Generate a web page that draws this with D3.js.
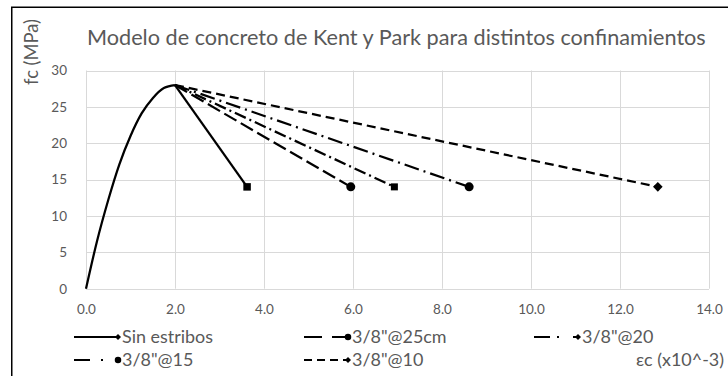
<!DOCTYPE html>
<html><head><meta charset="utf-8">
<script src="https://cdn.jsdelivr.net/npm/d3@7"></script>
<style>html,body{margin:0;padding:0;background:#fff;overflow:hidden}svg{display:block}</style>
</head><body>
<svg id="c" width="728" height="376"></svg>
<script>
// ---- data ----
const title = "Modelo de concreto de Kent y Park para distintos confinamientos";
const yTitle = "fc (MPa)";
const xTitle = "εc (x10^-3)";
const xTicks = [0, 2, 4, 6, 8, 10, 12, 14];
const yTicks = [0, 5, 10, 15, 20, 25, 30];
// ascending branch (shared) : strain x10^-3, stress MPa
const ascStrain = [0, 0.25, 0.5, 0.75, 1.0, 1.25, 1.5, 1.75, 2.0];
const ascStress = [0, 6.6, 12.2, 17.1, 21.0, 24.1, 26.2, 27.6, 28.0];
// descending branches: from peak to 0.5 f'c
const seriesNames = ["Sin estribos", "3/8\"@25cm", "3/8\"@20", "3/8\"@15", "3/8\"@10"];
const peakStrain = 2.0, peakStress = 28.0;
const endStrain = [3.62, 5.95, 6.93, 8.61, 12.85];
const endStress = [14, 14, 14, 14, 14];

// ---- styles ----
const dashes = [null, "14,5", "12,4,2,4", "15,5,2,5", "9,5"];
const legendDashes = [null, "18,10", "16,7,2,14", "16,11,2,16", "8,5"];
const plotMarkers = ["square", "circle", "square", "circle", "diamond"];
const legendMarkers = ["diamond", "circle", "diamond", "circle", "diamond"];
const textColor = "#595959", gridColor = "#d9d9d9";
const FONT = "Lato, 'Open Sans', sans-serif";

const svg = d3.select("#c");
const x = d3.scaleLinear().domain([0, 14]).range([86, 709]);
const y = d3.scaleLinear().domain([0, 30]).range([288.7, 70.5]);

// border
svg.append("rect").attr("x", 11.75).attr("y", 7.25).attr("width", 740).attr("height", 400)
  .attr("fill", "none").attr("stroke", "#000").attr("stroke-width", 1.5);

function fit(sel, target) {
  const n = sel.node();
  const w = n.getComputedTextLength();
  const fs = parseFloat(sel.attr("font-size"));
  sel.attr("font-size", (fs * target / w).toFixed(2));
}

// grid
const g = svg.append("g");
g.selectAll(".gx").data(xTicks).join("line")
  .attr("x1", d => Math.round(x(d)) + 0.5).attr("x2", d => Math.round(x(d)) + 0.5)
  .attr("y1", y(30)).attr("y2", y(0)).attr("stroke", gridColor).attr("stroke-width", 1);
g.selectAll(".gy").data(yTicks).join("line")
  .attr("x1", x(0)).attr("x2", x(14))
  .attr("y1", d => Math.round(y(d)) + 0.5).attr("y2", d => Math.round(y(d)) + 0.5)
  .attr("stroke", gridColor).attr("stroke-width", 1);

// axes (labels only, Excel style)
const xAxis = d3.axisBottom(x).tickValues(xTicks).tickFormat(d3.format(".1f")).tickSize(0).tickPadding(0);
const xa = svg.append("g").attr("transform", "translate(0,300)").call(xAxis);
xa.select(".domain").remove();
xa.selectAll("text").attr("dy", "0.71em").attr("y", 4).attr("fill", textColor)
  .attr("font-family", FONT).attr("font-size", 13.5);

const yAxis = d3.axisLeft(y).tickValues(yTicks).tickSize(0).tickPadding(0);
const ya = svg.append("g").attr("transform", "translate(67,0)").call(yAxis);
ya.select(".domain").remove();
ya.selectAll("text").attr("fill", textColor).attr("font-family", FONT).attr("font-size", 13.5);

// title
const t = svg.append("text").attr("x", 87).attr("y", 45).attr("fill", textColor)
  .attr("font-family", FONT).attr("font-size", 18).text(title);
fit(t, 619);

// y title
const yt = svg.append("text").attr("transform", "translate(38,52) rotate(-90)")
  .attr("text-anchor", "middle").attr("fill", textColor)
  .attr("font-family", FONT).attr("font-size", 15).text(yTitle);
fit(yt, 66);

// lines
const line = d3.line().x(d => x(d[0])).y(d => y(d[1]));
const asc = ascStrain.map((s, i) => [s, ascStress[i]]);
svg.append("path").datum(asc)
  .attr("d", d3.line().x(d => x(d[0])).y(d => y(d[1])).curve(d3.curveMonotoneX))
  .attr("fill", "none").attr("stroke", "#000").attr("stroke-width", 2.25);

function marker(sel, type, cx, cy, s) {
  if (type === "circle") return sel.append("circle").attr("cx", cx).attr("cy", cy).attr("r", s / 2).attr("fill", "#000");
  if (type === "square") return sel.append("rect").attr("x", cx - s / 2).attr("y", cy - s / 2).attr("width", s).attr("height", s).attr("fill", "#000");
  const h = s / 2 * 1.2;
  return sel.append("path").attr("d", `M${cx},${cy - h}L${cx + h},${cy}L${cx},${cy + h}L${cx - h},${cy}Z`).attr("fill", "#000");
}

const order = [4, 3, 2, 1, 0];
order.forEach(i => {
  const pts = [[peakStrain, peakStress], [endStrain[i], endStress[i]]];
  const p = svg.append("path").datum(pts).attr("d", line)
    .attr("fill", "none").attr("stroke", "#000").attr("stroke-width", 2.25);
  if (dashes[i]) p.attr("stroke-dasharray", dashes[i]);
});
const mSizes = [7.5, 9, 7, 9, 8];
order.forEach(i => {
  marker(svg, plotMarkers[i], x(endStrain[i]), y(endStress[i]), mSizes[i]);
});

// legend
const legPos = [[74, 337], [304, 337], [534, 337], [74, 360], [304, 360]];
const legTexts = [];
seriesNames.forEach((name, i) => {
  const [lx, ly] = legPos[i];
  const l = svg.append("line").attr("x1", lx).attr("x2", lx + 44).attr("y1", ly).attr("y2", ly)
    .attr("stroke", "#000").attr("stroke-width", 2);
  if (legendDashes[i]) l.attr("stroke-dasharray", legendDashes[i]);
  marker(svg, legendMarkers[i], lx + 44, ly, legendMarkers[i] === "circle" ? 6.5 : 5);
  legTexts.push(svg.append("text").attr("x", lx + 48).attr("y", ly).attr("dy", "0.35em")
    .attr("fill", textColor).attr("font-family", FONT).attr("font-size", 15).text(name));
});
const ratio = 91 / legTexts[0].node().getComputedTextLength();
const legFs = (15 * ratio).toFixed(2);
legTexts.forEach(tx => tx.attr("font-size", legFs));

svg.append("text").attr("x", 724).attr("y", 360).attr("dy", "0.35em").attr("text-anchor", "end")
  .attr("fill", textColor).attr("font-family", FONT).attr("font-size", legFs).text(xTitle);
</script>
</body></html>
